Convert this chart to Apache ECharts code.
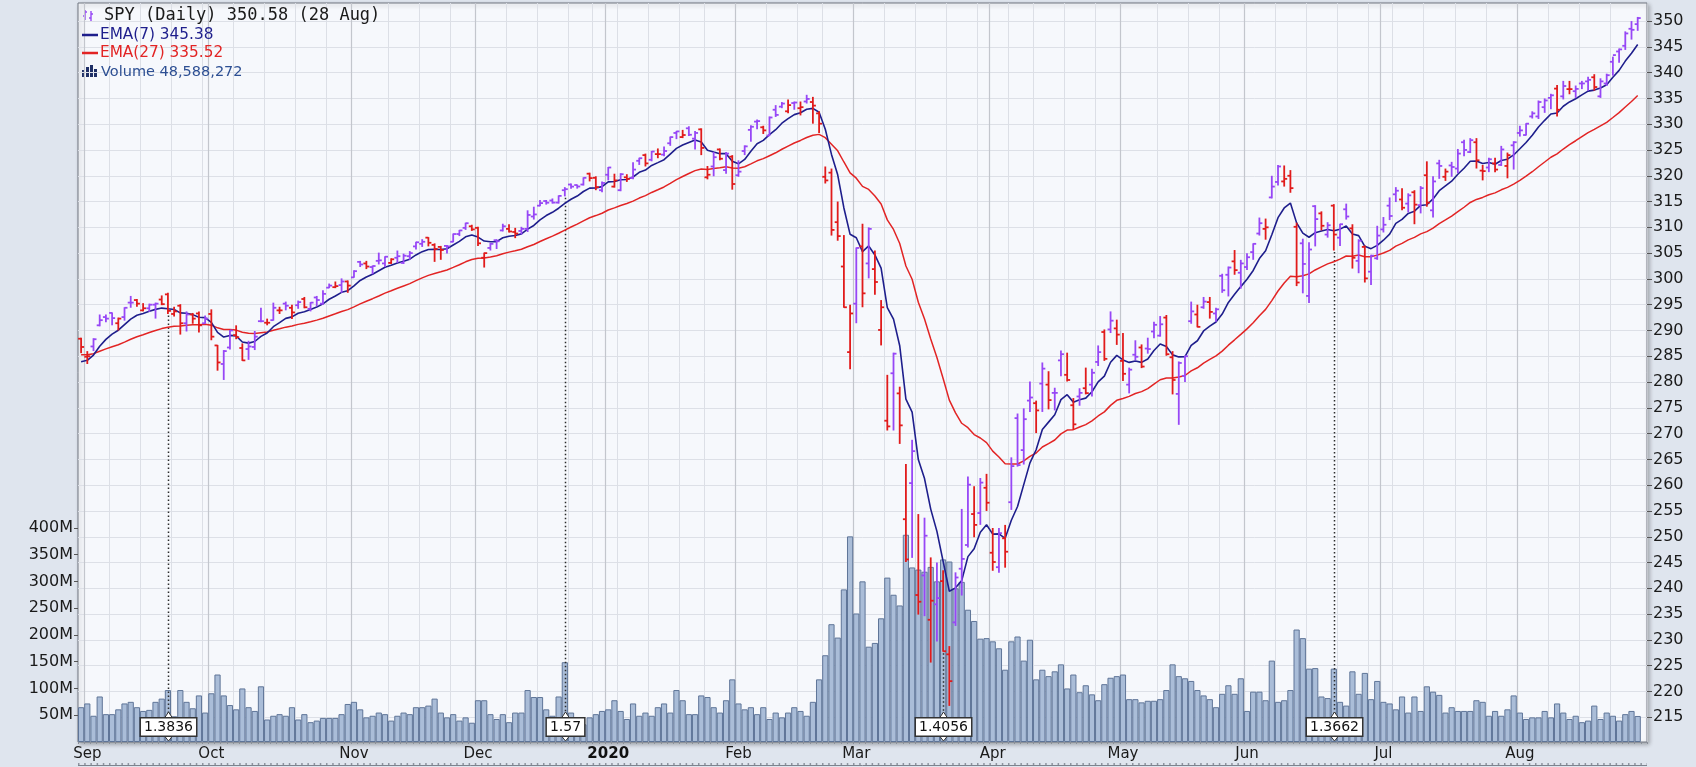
<!DOCTYPE html>
<html><head><meta charset="utf-8">
<script src="https://cdn.jsdelivr.net/npm/echarts@6.0.0/dist/echarts.min.js"></script>
<style>html,body{margin:0;padding:0;background:#dfe5ee;}#chart{width:1696px;height:767px;}</style>
</head><body><div id="chart"></div>
<script>
// ---------------- data ----------------
const firstDay = '2019-08-30';
const lastDay = '2020-08-28';
const marketHolidays = ['2019-09-02','2019-11-28','2019-12-25','2020-01-01','2020-01-20','2020-02-17','2020-04-10','2020-05-25','2020-07-03'];
// label per calendar month (Jan shows the year)
const monthLabels = ['2020','Feb','Mar','Apr','May','Jun','Jul','Aug','Sep','Oct','Nov','Dec'];

// daily [open, high, low, close]
const ohlc = [
// Aug 30 + Sep 2019
[288.4,288.5,285.7,286.8],[284.9,285.9,283.6,285.0],[286.9,288.4,286.1,288.3],[291.0,293.0,290.9,292.0],[292.6,293.0,291.7,292.3],
[293.4,293.4,291.1,292.4],[291.4,292.4,290.1,292.3],[292.6,294.4,292.0,294.4],[295.4,296.6,294.5,295.4],[295.9,296.0,294.7,295.2],
[293.9,295.2,293.8,294.3],[294.3,295.1,293.7,295.0],[295.0,295.3,292.4,295.2],[296.0,296.7,295.0,295.1],[297.0,297.2,293.3,293.8],
[293.2,294.5,292.8,293.7],[294.8,295.0,289.3,291.4],[291.4,293.6,289.9,293.1],[293.1,293.3,291.4,292.3],[293.3,293.6,289.7,291.0],
[291.4,292.8,291.4,292.3],
// Oct
[293.2,294.0,288.2,288.8],[287.1,287.1,282.3,283.8],[283.5,286.1,280.5,286.0],[286.7,290.0,286.4,290.0],[289.1,290.9,288.4,288.7],
[286.6,287.4,284.2,284.2],[286.4,287.9,284.4,286.9],[286.8,289.8,286.3,288.8],[291.8,294.3,291.7,291.8],[291.5,292.2,291.1,291.5],
[292.0,295.3,292.0,294.4],[293.9,294.5,293.3,293.9],[295.2,295.5,294.0,294.8],[294.4,294.9,292.3,293.5],[294.9,295.7,294.3,295.5],
[296.1,296.4,294.4,294.5],[294.2,295.4,293.8,295.4],[296.4,296.6,294.8,295.9],[295.2,297.7,295.1,297.1],[298.3,299.0,298.3,298.7],
[298.4,299.4,298.3,298.6],[298.8,300.0,297.4,299.5],[299.5,299.6,297.4,298.7],
// Nov
[300.3,301.6,300.3,301.5],[303.3,303.4,302.4,302.8],[303.0,303.4,302.0,302.4],[302.3,302.5,301.0,302.5],[303.5,305.0,302.9,303.6],
[303.0,304.3,302.4,304.3],[303.1,303.9,303.0,303.8],[304.1,305.4,303.2,304.4],[303.1,304.8,303.0,304.5],[304.4,305.3,303.8,305.0],
[306.3,307.1,305.8,307.1],[306.8,307.6,306.3,307.2],[308.0,308.0,306.4,307.0],[306.6,306.8,303.4,305.8],[306.2,306.3,303.8,305.6],
[306.4,306.5,305.0,306.3],[307.2,308.7,307.2,308.7],[308.7,309.4,308.4,309.4],[309.9,310.8,309.6,310.8],[310.2,310.4,309.4,309.6],
// Dec
[309.9,310.0,306.5,306.9],[304.1,305.0,302.3,305.0],[306.0,306.9,305.6,306.8],[307.5,307.6,305.9,307.3],[309.4,310.6,309.3,310.2],
[309.7,310.5,309.1,309.2],[309.1,309.8,308.0,308.8],[309.3,310.0,308.7,309.7],[309.7,313.2,309.2,312.4],[312.1,313.9,311.6,312.5],
[314.2,315.2,314.2,314.7],[315.1,315.2,314.5,314.78],[315.2,315.5,314.7,314.8],[314.8,316.1,314.7,316.1],[317.2,317.7,316.1,317.4],
[318.3,318.4,317.6,317.9],[318.2,318.2,317.6,317.92],[318.3,319.6,318.2,319.6],[320.4,320.5,319.0,319.55],[319.6,319.8,317.3,317.8],
[317.2,318.8,316.9,318.6],
// Jan 2020
[320.2,321.6,319.2,321.6],[317.9,320.3,317.8,319.1],[317.2,320.4,317.1,320.3],[319.7,320.2,318.9,319.4],[319.6,322.5,319.4,321.2],
[322.9,323.4,322.2,323.4],[324.0,324.2,321.9,322.4],[323.1,324.7,322.9,324.7],[324.2,325.2,323.5,324.2],[324.1,325.6,323.9,324.8],
[326.3,327.5,325.9,327.5],[328.3,328.6,327.2,328.6],[327.5,328.8,327.4,327.9],[329.2,329.5,327.8,327.95],[327.2,328.6,325.2,328.3],
[329.0,329.1,324.1,325.4],[319.7,321.8,319.4,320.2],[321.8,324.5,320.0,323.6],[325.1,325.2,323.1,323.3],[321.1,324.5,320.5,324.3],
[323.7,323.9,317.4,318.4],
// Feb
[320.1,322.9,319.9,320.8],[324.8,325.8,324.1,325.7],[328.9,329.7,326.7,329.5],[330.5,330.8,329.1,330.6],[329.4,329.6,328.2,328.8],
[327.8,331.4,327.8,331.3],[332.8,333.6,331.5,331.8],[333.4,334.2,333.2,334.0],[332.5,334.7,332.2,333.7],[334.1,334.3,332.9,334.2],
[333.1,334.3,331.8,333.3],[334.4,335.6,334.1,334.9],[334.3,335.2,330.2,333.6],[332.1,332.4,328.4,330.1],[319.8,321.7,318.6,319.1],
[320.6,321.3,308.5,309.5],[311.0,314.9,307.5,308.3],[302.4,308.4,294.5,294.5],[285.8,294.9,282.6,293.3],
// Mar
[295.2,306.0,291.5,306.0],[306.3,310.6,294.6,297.2],[303.0,309.9,300.2,309.7],[301.9,305.4,297.0,299.4],[290.1,295.8,287.2,294.5],
[272.5,281.3,270.7,271.4],[281.7,285.6,270.7,285.5],[277.8,279.0,268.1,271.6],[253.4,264.0,245.2,245.6],[260.4,268.7,246.0,266.6],
[238.7,254.3,235.0,237.4],[242.5,253.6,234.7,250.2],[233.9,245.9,225.7,237.6],[236.9,244.9,229.8,238.1],[241.4,243.4,227.8,227.8],
[227.2,228.7,217.3,222.0],[233.4,243.0,232.8,242.1],[243.8,255.3,238.7,245.7],[248.4,261.6,248.0,260.1],[254.4,259.7,250.0,252.3],
[254.6,261.3,252.4,260.5],[259.5,262.1,255.1,256.6],
// Apr
[246.9,251.6,243.5,245.1],[244.1,251.6,243.1,250.7],[249.7,252.2,244.1,247.1],[256.7,265.3,255.3,263.7],[273.0,273.8,263.7,263.9],
[266.8,274.8,264.1,272.8],[276.4,280.0,274.3,277.0],[275.9,276.3,270.2,274.5],[279.7,283.7,274.3,282.6],[279.5,282.0,274.8,276.5],
[277.9,278.8,274.6,277.9],[284.2,286.0,281.2,285.4],[281.4,285.6,280.2,280.4],[275.5,276.8,270.8,271.8],[277.2,278.7,275.5,277.9],
[278.8,282.7,277.7,277.85],[279.5,282.5,277.3,281.8],[283.9,287.0,283.2,285.8],[289.7,290.1,284.2,284.5],[290.2,293.6,289.6,291.9],
[290.4,292.0,287.3,289.2],
// May
[284.1,289.4,280.3,281.6],[279.5,282.7,277.9,282.4],[285.3,288.0,284.3,284.9],[286.7,287.2,282.8,283.0],[286.5,288.5,285.6,286.4],
[289.8,291.6,288.6,291.1],[289.0,292.7,288.9,291.2],[292.5,292.9,285.2,285.4],[284.8,285.9,277.7,280.4],[277.7,283.9,271.8,283.7],
[281.2,285.0,280.1,285.0],[291.8,295.5,291.4,293.7],[293.1,294.9,290.7,290.7],[294.5,296.4,294.3,295.6],[295.5,296.4,292.4,293.6],
[293.3,294.3,291.8,294.1],[300.6,300.9,297.4,297.8],[300.8,302.3,296.7,302.2],[303.4,305.5,300.9,301.7],[301.2,303.6,298.2,303.0],
// Jun
[302.3,304.9,301.8,304.2],[305.2,306.8,303.8,306.8],[308.8,311.8,308.5,310.8],[309.7,311.6,307.7,310.0],[315.8,319.9,315.7,317.9],
[318.8,322.0,318.2,321.8],[318.9,321.9,318.0,319.4],[320.0,321.0,316.8,317.6],[310.1,310.8,298.7,299.3],[306.9,307.7,297.3,302.9],
[296.7,307.0,295.4,305.7],[314.1,314.2,306.4,311.6],[312.7,313.0,309.5,310.3],[308.6,310.9,308.1,310.4],[314.2,314.4,305.6,308.6],
[308.0,310.6,306.5,310.6],[313.5,314.5,311.6,312.1],[309.8,310.5,302.1,304.1],[303.5,307.6,301.2,307.4],[306.2,306.4,299.4,300.1],
[301.4,304.6,298.9,304.5],[304.0,310.2,303.8,308.4],
// Jul
[309.6,311.9,309.1,310.5],[314.2,315.7,311.5,312.2],[316.4,317.7,315.0,317.1],[315.4,317.5,313.4,313.8],[314.6,316.5,313.0,316.2],
[316.8,317.1,310.7,314.4],[314.3,317.9,312.8,317.6],[320.1,322.7,314.1,314.8],[313.3,319.8,312.0,318.9],[322.4,323.0,319.5,321.9],
[319.8,321.3,319.1,320.8],[322.0,322.6,319.9,321.7],[321.4,325.1,320.6,324.3],[326.5,326.9,323.9,325.0],[324.6,327.2,324.5,326.9],
[326.5,327.2,321.5,323.0],[321.0,322.0,319.2,320.9],[321.6,323.4,320.8,323.2],[322.4,323.4,320.8,321.2],[322.1,325.7,322.0,325.1],
[321.9,324.4,319.6,324.0],[325.9,326.6,321.3,326.5],
// Aug
[328.3,329.6,327.7,328.8],[327.9,330.1,327.9,330.1],[331.5,332.4,331.2,332.1],[331.5,334.5,331.1,334.3],[333.3,334.9,332.3,334.6],
[335.1,335.8,333.0,335.6],[336.9,337.5,331.6,332.8],[335.4,338.3,334.9,337.4],[336.8,338.3,335.9,336.8],[336.4,337.4,335.2,336.84],
[337.9,338.3,336.9,337.9],[338.3,339.1,336.6,338.6],[339.1,339.6,336.6,337.2],[335.4,338.8,335.2,338.3],[337.9,339.7,337.5,339.5],
[342.1,343.0,339.5,343.4],[344.1,344.6,342.0,344.5],[345.2,347.9,344.5,347.6],[348.5,349.9,346.5,348.3],[349.4,350.7,348.2,350.58]
];

// daily volume, millions of shares
const volumeM = [
65,72,49,85,52,52,61,72,75,65,58,60,75,81,97,48,97,75,63,87,55,
91,126,87,69,61,100,65,58,104,42,49,52,49,65,42,52,37,40,45,45,45,52,71,
75,61,46,49,55,52,40,49,55,52,65,65,68,81,55,46,52,40,46,36,
78,78,52,43,52,37,55,55,97,84,84,61,49,85,149,55,25,33,46,52,58,
61,78,58,43,72,49,55,49,65,72,55,97,78,52,52,87,84,65,55,78,117,
72,61,65,52,65,43,55,46,55,65,58,49,75,117,162,220,195,285,384,
240,300,178,185,231,307,275,255,387,326,322,318,327,300,341,337,287,299,247,226,193,194,
188,175,135,188,197,152,191,117,135,123,132,145,100,126,93,106,89,78,108,120,123,
126,80,80,74,77,77,80,97,145,123,119,114,97,87,80,65,90,106,90,119,
58,94,94,78,152,75,78,97,210,194,137,138,85,82,137,75,68,132,90,129,80,114,
75,72,61,85,55,85,58,104,94,88,55,65,58,58,58,78,75,49,58,49,61,87,
55,43,46,46,58,46,72,55,43,49,37,40,68,43,55,49,40,52,58,48.59
];

const prevClose = 286.9;     // close before the first bar (for bar colour)
const ema7Seed = 283.0;      // EMA values just before the first bar
const ema27Seed = 285.2;

const dividends = [
  {date:'2019-09-20', amount:'1.3836'},
  {date:'2019-12-20', amount:'1.57'},
  {date:'2020-03-20', amount:'1.4056'},
  {date:'2020-06-19', amount:'1.3662'}
];

const priceTicks = [215,220,225,230,235,240,245,250,255,260,265,270,275,280,285,290,295,300,305,310,315,320,325,330,335,340,345,350];
const volumeTicksM = [50,100,150,200,250,300,350,400];
const legendLabels = ['SPY (Daily) 350.58 (28 Aug)','EMA(7) 345.38','EMA(27) 335.52','Volume 48,588,272'];

// ---------------- styles ----------------
const UP = '#9747f6', DOWN = '#e11b1b', EMA7C = '#1e1e8c', EMA27C = '#e22424';
const FONT = '"DejaVu Sans", Verdana, sans-serif';

// ---------------- build ----------------
function tradingDays(from, to, holidays) {
  const out = [];
  const d = new Date(from + 'T00:00:00Z'), end = new Date(to + 'T00:00:00Z');
  while (d <= end) {
    const wd = d.getUTCDay(), iso = d.toISOString().slice(0, 10);
    if (wd !== 0 && wd !== 6 && holidays.indexOf(iso) < 0) out.push(iso);
    d.setUTCDate(d.getUTCDate() + 1);
  }
  return out;
}
const dates = tradingDays(firstDay, lastDay, marketHolidays);
const categories = dates.concat(['']); // one empty slot at the right edge
const monthOf = s => s ? +s.slice(5, 7) : -1;
const wdOf = s => new Date(s + 'T00:00:00Z').getUTCDay();
const isMonthStart = categories.map((s, i) => i > 0 && s !== '' && monthOf(s) !== monthOf(categories[i - 1]));
const isWeekStart = categories.map((s, i) => i > 0 && s !== '' && !isMonthStart[i] && !isMonthStart[i - 1] && wdOf(s) <= wdOf(categories[i - 1]));

function ema(values, n, seed) {
  const k = 2 / (n + 1); let prev = seed;
  return values.map(v => { prev = prev + k * (v - prev); return +prev.toFixed(3); });
}
const closes = ohlc.map(r => r[3]);
const ema7 = ema(closes, 7, ema7Seed);
const ema27 = ema(closes, 27, ema27Seed);

const barData = ohlc.map((r, i) => [i, r[0], r[1], r[2], r[3], r[3] > (i ? ohlc[i - 1][3] : prevClose) ? 1 : 0]);
const volData = volumeM.map(v => v * 1e6);
const divData = dividends.map(d => { const i = dates.indexOf(d.date); return [i, ohlc[i][2]]; });

function monthLabel(v) {
  if (!v) return '';
  const m = monthOf(v);
  return m === 1 ? '{y|' + monthLabels[0] + '}' : monthLabels[m - 1];
}

const chart = echarts.init(document.getElementById('chart'), null, {renderer: 'canvas'});

const option = {
  animation: false,
  backgroundColor: '#dfe5ee',
  textStyle: {fontFamily: FONT},
  grid: {
    left: 78, right: 49, top: 3, bottom: 25, outerBoundsMode: 'none',
    show: true, backgroundColor: '#f6f8fc', borderColor: '#707680', borderWidth: 1,
    shadowColor: 'rgba(0,0,0,0.28)', shadowBlur: 4, shadowOffsetX: 2, shadowOffsetY: 2
  },
  xAxis: [
    {
      type: 'category', data: categories, boundaryGap: true,
      axisLine: {show: false},
      axisTick: {show: true, interval: 0, length: 2, lineStyle: {color: '#8a8f99'}},
      axisLabel: {
        interval: (i) => isMonthStart[i], margin: 5, fontSize: 15, color: '#1a1a1a', fontFamily: FONT,
        formatter: (v) => monthLabel(v),
        rich: {y: {fontWeight: 'bold', fontSize: 15, color: '#111', fontFamily: FONT}}
      },
      splitLine: {show: true, interval: (i) => isWeekStart[i], lineStyle: {color: '#dcdfe6', width: 1}}
    },
    {
      type: 'category', data: categories, boundaryGap: true, position: 'bottom',
      axisLine: {show: false}, axisTick: {show: false}, axisLabel: {show: false},
      splitLine: {show: true, interval: (i) => isMonthStart[i], lineStyle: {color: '#c3c6cd', width: 1.2}}
    }
  ],
  yAxis: [
    {
      type: 'value', position: 'right', min: 210.2, max: 353.5,
      axisLine: {show: false},
      axisTick: {show: true, customValues: priceTicks, length: 5, lineStyle: {color: '#555'}},
      axisLabel: {customValues: priceTicks, fontSize: 16, color: '#1a1a1a', margin: 6, fontFamily: FONT},
      splitLine: {show: true, lineStyle: {color: '#dde0e7', width: 1}}
    },
    {
      type: 'value', position: 'left', min: 0, max: 1380e6,
      axisLine: {show: false},
      axisTick: {show: true, customValues: volumeTicksM.map(v => v * 1e6), length: 4, lineStyle: {color: '#555'}},
      axisLabel: {customValues: volumeTicksM.map(v => v * 1e6), fontSize: 16, color: '#1a1a1a', margin: 5, fontFamily: FONT,
        formatter: v => Math.round(v / 1e6) + 'M'},
      splitLine: {show: false}
    }
  ],
  series: [
    {
      name: 'Volume', type: 'bar', xAxisIndex: 0, yAxisIndex: 1, data: volData,
      barCategoryGap: '0%', z: 1,
      itemStyle: {color: '#aabdd8', borderColor: '#5f7598', borderWidth: 1}
    },
    {
      name: 'Dividends', type: 'custom', xAxisIndex: 0, yAxisIndex: 0, data: divData, z: 3,
      encode: {x: 0, y: 1},
      renderItem: (params, api) => {
        const p = api.coord([api.value(0), api.value(1)]);
        const cs = params.coordSys;
        const bottom = cs.y + cs.height;
        const cy = bottom - 15;
        const x = Math.round(p[0]) + 0.5;
        const text = dividends[params.dataIndex].amount;
        return {type: 'group', children: [
          {type: 'line', shape: {x1: x, y1: p[1] + 2, x2: x, y2: cy - 11}, style: {stroke: '#2a2a2a', lineWidth: 1.5, lineDash: [1.5, 2.5]}},
          {type: 'polygon', shape: {points: [[x - 4, cy - 9], [x + 4, cy - 9], [x, cy - 15]]}, style: {fill: '#fff', stroke: '#333', lineWidth: 1}},
          {type: 'polygon', shape: {points: [[x - 4, cy + 9], [x + 4, cy + 9], [x, cy + 14]]}, style: {fill: '#fff', stroke: '#333', lineWidth: 1}},
          {type: 'text', x: x, y: cy, style: {text: text, font: '14px ' + FONT, fill: '#111', align: 'center', verticalAlign: 'middle',
            backgroundColor: '#ffffff', borderColor: '#333', borderWidth: 1.5, padding: [2, 3, 1, 3]}}
        ]};
      }
    },
    {
      name: 'EMA(27)', type: 'line', xAxisIndex: 0, yAxisIndex: 0, data: ema27, showSymbol: false, symbol: 'none', z: 4,
      lineStyle: {color: EMA27C, width: 1.5}
    },
    {
      name: 'EMA(7)', type: 'line', xAxisIndex: 0, yAxisIndex: 0, data: ema7, showSymbol: false, symbol: 'none', z: 5,
      lineStyle: {color: EMA7C, width: 1.6}
    },
    {
      name: 'SPY', type: 'custom', xAxisIndex: 0, yAxisIndex: 0, data: barData, z: 6,
      encode: {x: 0, y: [1, 2, 3, 4]},
      renderItem: (params, api) => {
        const i = api.value(0);
        const pH = api.coord([i, api.value(2)]), pL = api.coord([i, api.value(3)]);
        const pO = api.coord([i, api.value(1)]), pC = api.coord([i, api.value(4)]);
        const color = api.value(5) ? UP : DOWN;
        const x = pH[0];
        const t = 3;
        const st = {stroke: color, lineWidth: 1.8};
        return {type: 'group', children: [
          {type: 'line', shape: {x1: x, y1: pH[1] - 0.5, x2: x, y2: pL[1] + 0.5}, style: st},
          {type: 'line', shape: {x1: x - t, y1: pO[1], x2: x, y2: pO[1]}, style: st},
          {type: 'line', shape: {x1: x, y1: pC[1], x2: x + t, y2: pC[1]}, style: st}
        ]};
      }
    }
  ],
  graphic: [
    // SPY icon
    {type: 'group', x: 83, y: 10, z: 100, children: [
      {type: 'line', shape: {x1: 2, y1: 0, x2: 2, y2: 10}, style: {stroke: UP, lineWidth: 1.4}},
      {type: 'line', shape: {x1: 0, y1: 6, x2: 2, y2: 6}, style: {stroke: UP, lineWidth: 1.4}},
      {type: 'line', shape: {x1: 2, y1: 2, x2: 4, y2: 2}, style: {stroke: UP, lineWidth: 1.4}},
      {type: 'line', shape: {x1: 8, y1: 1, x2: 8, y2: 11}, style: {stroke: UP, lineWidth: 1.4}},
      {type: 'line', shape: {x1: 6, y1: 8, x2: 8, y2: 8}, style: {stroke: UP, lineWidth: 1.4}},
      {type: 'line', shape: {x1: 8, y1: 4, x2: 10, y2: 4}, style: {stroke: UP, lineWidth: 1.4}}
    ]},
    {type: 'text', x: 104, y: 16, z: 100, style: {text: legendLabels[0], font: '17px "DejaVu Sans Mono", monospace', fill: '#1a1a1a', verticalAlign: 'middle'}},
    {type: 'line', z: 100, shape: {x1: 82, y1: 35, x2: 98, y2: 35}, style: {stroke: EMA7C, lineWidth: 2.5}},
    {type: 'text', x: 100, y: 35, z: 100, style: {text: legendLabels[1], font: '15.3px ' + FONT, fill: EMA7C, verticalAlign: 'middle'}},
    {type: 'line', z: 100, shape: {x1: 82, y1: 53, x2: 98, y2: 53}, style: {stroke: EMA27C, lineWidth: 2.5}},
    {type: 'text', x: 100, y: 53, z: 100, style: {text: legendLabels[2], font: '15.3px ' + FONT, fill: EMA27C, verticalAlign: 'middle'}},
    // Volume icon
    {type: 'group', x: 82, y: 65, z: 100, children: [
      {type: 'rect', shape: {x: 0, y: 5, width: 3, height: 7}, style: {fill: '#1f2f66'}},
      {type: 'rect', shape: {x: 4, y: 2, width: 3, height: 10}, style: {fill: '#1f2f66'}},
      {type: 'rect', shape: {x: 8, y: 0, width: 3, height: 12}, style: {fill: '#1f2f66'}},
      {type: 'rect', shape: {x: 12, y: 4, width: 3, height: 8}, style: {fill: '#1f2f66'}}
    ]},
    {type: 'text', x: 101, y: 72, z: 100, style: {text: legendLabels[3], font: '14.5px ' + FONT, fill: '#2d4f93', verticalAlign: 'middle'}},
    // top edge of the next panel
    {type: 'line', z: 100, shape: {x1: 78, y1: 765.5, x2: 1647, y2: 765.5}, style: {stroke: '#7d838e', lineWidth: 1}},
    {type: 'line', z: 100, shape: {x1: 78, y1: 764, x2: 1647, y2: 764}, style: {stroke: '#8d939e', lineWidth: 2, lineDash: [1.5, 4.7]}}
  ]
};
chart.setOption(option);
</script>
</body></html>
